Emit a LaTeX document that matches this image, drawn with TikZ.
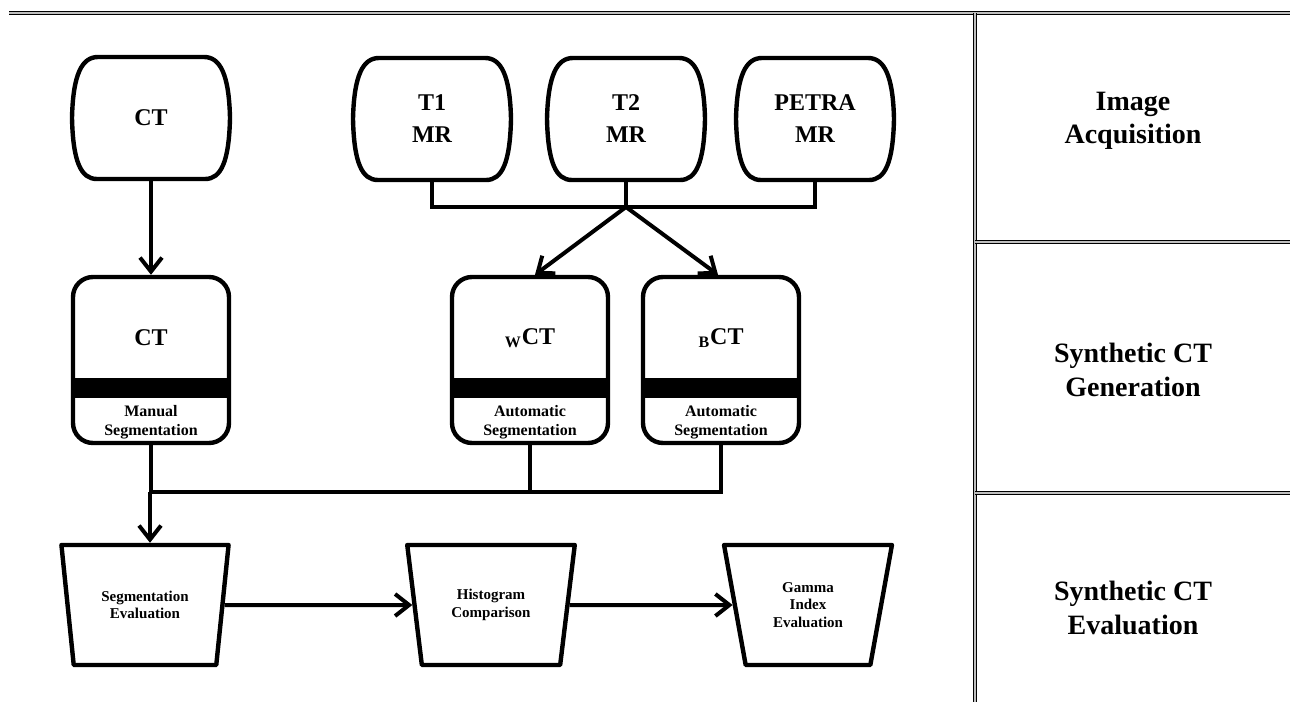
\documentclass[tikz,border=0pt]{standalone}
\usepackage{fontspec}
\setmainfont{Liberation Serif}
\usetikzlibrary{arrows.meta,shapes.geometric}
\newcommand\barrelat[1]{\draw[outline,shift={(#1.center)}] (-53,-61) -- (53,-61) .. controls (69,-61) and (78,-44) .. (79,0) .. controls (78,44) and (70,61) .. (54,61) -- (-54,61) .. controls (-70,61) and (-78,44) .. (-79,0) .. controls (-78,-44) and (-69,-61) .. (-53,-61) -- cycle;}
\begin{document}
\begin{tikzpicture}[x=0.5pt,y=-0.5pt,
  every node/.style={inner sep=0pt},
  outline/.style={line width=2.2pt, line join=round},
  conn/.style={line width=2pt},
  arr/.style={conn, -{Straight Barb[length=7pt,width=11pt]}},
  dbl/.style={double=black!25, double distance=1.3pt, line width=0.55pt},
  bigtxt/.style={font=\bfseries\fontsize{12}{16}\selectfont, align=center},
  smalltxt/.style={font=\bfseries\fontsize{8}{9.5}\selectfont, align=center},
  traptxt/.style={font=\bfseries\fontsize{7.5}{8.8}\selectfont, align=center},
  sectxt/.style={font=\bfseries\fontsize{14}{16.8}\selectfont, align=center},
  source/.style={bigtxt, minimum width=79pt, minimum height=61pt},
  segbox/.style={draw, outline, rounded corners=10pt, minimum width=78pt, minimum height=83pt},
  trap/.style={draw, outline, traptxt, trapezium, shape border rotate=180,
    trapezium angle=75, trapezium stretches=true, minimum width=84pt, minimum height=60pt}
]
\useasboundingbox (0,0) rectangle (1290,702);

% frame lines
\draw[dbl] (9,13) -- (1290,13);
\draw[dbl] (975,13) -- (975,702);
\draw[dbl] (975,242) -- (1290,242);
\draw[dbl] (975,493) -- (1290,493);

% section labels
\node[sectxt] (sec1) at (1133,121) {Image\\Acquisition};
\node[sectxt] (sec2) at (1133,370) {Synthetic CT\\Generation};
\node[sectxt] (sec3) at (1133,608) {Synthetic CT\\Evaluation};

% acquisition nodes
\node[source] (ct0) at (151,118) {CT};
\node[source] (t1) at (432,119) {T1\\MR};
\node[source] (t2) at (626,119) {T2\\MR};
\node[source] (petra) at (815,119) {PETRA\\MR};
\barrelat{ct0}
\barrelat{t1}
\barrelat{t2}
\barrelat{petra}

% segmentation boxes
\node[segbox] (ctb) at (151,360) {};
\node[segbox] (wctb) at (530,360) {};
\node[segbox] (bctb) at (721,360) {};
\foreach \b in {ctb,wctb,bctb}{
  \fill[shift={(\b.center)}] (-78,18) rectangle (78,38);
}
\node[bigtxt] (ctbt) at ([yshift=11pt]ctb.center) {CT};
\node[bigtxt] (wctbt) at ([yshift=11pt]wctb.center) {\textsubscript{W}CT};
\node[bigtxt] (bctbt) at ([yshift=11pt]bctb.center) {\textsubscript{B}CT};
\node[smalltxt] (ctbs) at ([yshift=-31pt]ctb.center) {Manual\\Segmentation};
\node[smalltxt] (wctbs) at ([yshift=-31pt]wctb.center) {Automatic\\Segmentation};
\node[smalltxt] (bctbs) at ([yshift=-31pt]bctb.center) {Automatic\\Segmentation};

% evaluation trapezoids
\node[trap] (seg) at (145,605) {Segmentation\\Evaluation};
\node[trap] (hist) at (491,605) {Histogram\\Comparison};
\node[trap] (gamma) at (808,605) {Gamma\\Index\\Evaluation};

% connectors
\coordinate (split) at (626,207);
\coordinate (merge) at (150,492);
\draw[conn] (t1.south) -- (t1.south |- split) -| (petra.south);
\draw[conn] (t2.south) -- (split);
\draw[arr] (split) -- ([xshift=2.5pt]wctb.north);
\draw[arr] (split) -- ([xshift=-1.5pt]bctb.north);
\draw[arr] (ct0.south) -- (ctb.north);
\draw[conn] (ctb.south) -- (ctb.south |- merge) -- (bctb.south |- merge) -- (bctb.south);
\draw[conn] (wctb.south) -- (wctb.south |- merge);
\draw[arr] (merge) -- (merge |- seg.north);
\draw[arr] (seg) -- (hist);
\draw[arr] (hist) -- (gamma);
\end{tikzpicture}
\end{document}
